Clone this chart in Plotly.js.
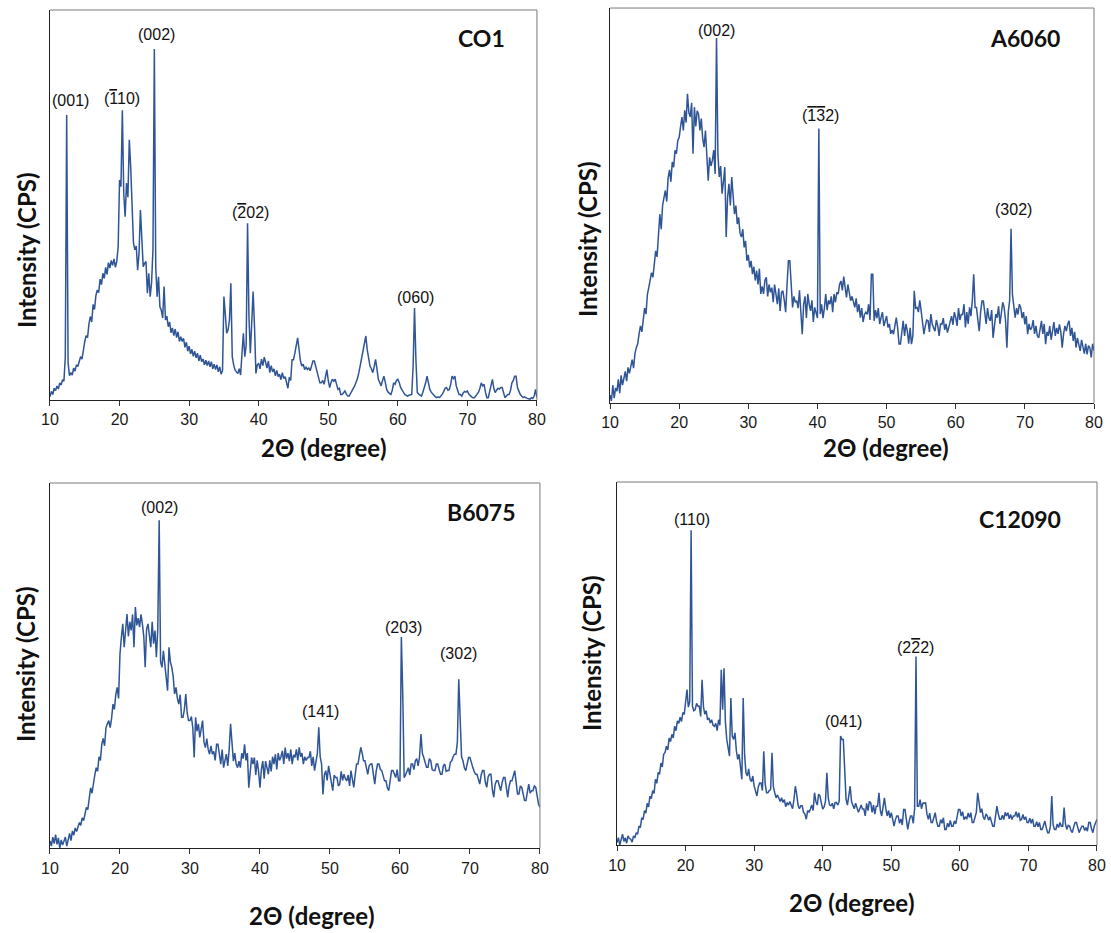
<!DOCTYPE html>
<html><head><meta charset="utf-8">
<script src="https://cdn.plot.ly/plotly-3.0.1.min.js"></script>
<style>html,body{margin:0;padding:0;background:#fff}#chart{width:1111px;height:933px}</style>
</head><body><div id="chart"></div>
<script>
// Scan grid: 2theta from 10 to 80 degrees, step 0.2
const angleStart = 10, angleStep = 0.2;
const tickDegrees = [10, 20, 30, 40, 50, 60, 70, 80];
const sampleNames = ["CO1", "A6060", "B6075", "C12090"];

// Intensities (relative, 0-1000 of panel height), 5 values per degree
const co1 = [
 8,22,14,30,24, 36,28,44,38,52, 48,110,731,95,62, 70,64,82,74,90, 86,98,111,105,130,
 150,165,160,195,214, 200,245,232,268,282, 275,310,296,325,312, 340,322,352,338,358, 345,362,340,355,393,
 564,547,743,530,470, 556,520,667,598,487, 402,385,395,333,376, 487,410,342,350,355, 274,325,265,300,385,
 900,342,265,316,239, 230,210,291,205,215, 188,200,172,185,165, 182,160,175,150,162, 150,158,135,148,125,
 138,118,130,112,125, 108,120,100,115,98, 105,90,102,88,100, 85,98,80,92,78, 90,72,85,66,75,
 265,220,171,180,205, 299,111,90,77,72, 68,80,64,120,171, 111,140,453,214,120, 222,278,188,68,90,
 94,80,105,88,110, 96,82,100,70,88, 72,80,62,76,60, 66,52,70,55,60, 45,30,58,50,103,
 103,120,140,159,130, 100,87,92,78,84, 78,82,75,88,100, 100,85,70,60,44, 44,50,40,55,78,
 50,32,45,53,48, 53,40,27,30,14, 14,20,23,15,10, 10,18,23,30,36, 44,55,70,90,105,
 121,150,164,129,110, 87,80,70,85,104, 80,53,45,36,50, 61,45,27,20,16, 14,25,44,40,50,
 53,45,32,25,18, 14,12,10,12,14, 14,87,236,104,19, 15,12,10,20,30, 44,61,40,27,20,
 15,10,8,6,8, 6,10,15,22,30, 32,25,27,40,61, 55,61,36,25,14, 14,10,18,22,20,
 23,15,10,8,6, 6,10,14,20,30, 44,36,40,20,6, 6,20,35,53,30, 19,25,30,28,32,
 32,15,6,10,14, 14,25,44,50,61, 61,32,20,14,10, 6,8,5,4,3, 2,6,4,10,27,
 6];

const a6060 = [
 20,5,45,12,38, 30,60,25,70,45, 62,80,55,90,75, 95,110,88,125,140, 150,175,195,180,220,
 240,225,275,292,310, 330,318,360,385,370, 420,478,440,500,520, 538,510,570,590,560, 610,597,640,631,665,
 673,700,724,690,741, 710,783,735,724,760, 631,749,700,740,732, 690,720,670,648,690, 640,563,622,600,614,
 640,580,924,630,572, 600,530,560,597,420, 520,555,500,572,510, 478,500,453,470,430, 420,440,394,410,360,
 375,343,360,326,345, 310,335,300,340,276, 295,276,310,318,270, 300,280,292,255,300, 276,250,290,233,280,
 284,260,230,300,360, 360,290,242,270,255, 259,240,285,230,174, 250,270,215,276,250, 233,260,205,242,230,
 215,695,225,250,215, 240,276,235,260,250, 270,230,276,255,280, 276,300,309,285,320, 290,267,300,275,259,
 270,259,242,265,230, 250,216,240,205,224, 230,224,250,210,326, 326,208,235,215,240, 200,216,230,195,210,
 220,191,200,175,185, 174,200,216,190,149, 149,180,208,170,200, 182,150,190,149,170, 284,240,242,230,260,
 233,200,174,195,210, 208,180,225,200,190, 182,210,195,170,200, 199,215,185,200,178, 191,205,220,198,230,
 216,195,240,210,224, 224,250,191,230,200, 242,220,260,326,242, 242,210,182,230,258, 258,230,200,240,215,
 208,235,165,200,225, 216,245,200,230,255, 242,210,140,230,260, 441,275,250,216,240, 224,250,242,215,230,
 199,220,174,200,185, 191,210,175,195,170, 165,190,208,175,200, 149,180,170,195,160, 182,205,170,190,175,
 199,180,140,175,195, 182,200,208,170,190, 157,180,140,165,150, 132,160,145,125,150, 123,145,140,115,150,
 132];

const b6075 = [
 19,5,30,12,37, 10,28,0,22,8, 19,30,5,25,40, 20,47,35,55,45, 56,70,62,83,75,
 95,111,105,140,165, 150,180,200,220,210, 250,240,284,300,280, 330,340,349,330,355, 394,380,420,440,410,
 532,577,614,550,600, 641,580,620,596,640, 550,660,610,630,605, 640,614,580,495,600, 614,580,550,620,560,
 596,523,600,898,510, 495,540,504,470,431, 550,510,495,470,422, 440,410,394,420,358, 358,380,422,370,349,
 349,360,330,248,358, 320,340,303,330,349, 290,275,300,270,257, 280,257,265,240,284, 284,250,230,270,220,
 240,257,225,270,340, 280,238,260,230,220, 238,220,260,245,284, 240,260,165,220,248, 230,248,200,240,210,
 165,215,238,190,238, 220,202,240,210,250, 230,257,215,260,240, 250,266,230,275,245, 260,238,270,230,255,
 248,270,240,276,250, 260,230,250,240,248, 248,265,225,250,212, 240,260,331,250,230, 147,200,212,185,225,
 202,175,157,200,193, 193,170,175,210,185, 202,190,184,200,170, 212,190,166,200,230, 230,250,276,260,239,
 239,215,202,225,230, 230,200,175,210,230, 230,215,212,195,184, 184,165,157,190,212, 212,200,193,215,184,
 184,578,422,193,200, 212,220,200,230,230, 215,239,245,225,250, 312,260,248,230,221, 221,245,239,215,212,
 212,230,230,215,202, 202,225,230,210,212, 212,235,239,250,257, 257,290,462,321,250, 239,220,212,235,248,
 248,230,221,210,202, 202,185,175,200,212, 212,180,166,195,202, 202,160,139,175,184, 184,170,157,180,193,
 193,160,139,170,184, 184,200,212,180,148, 148,170,166,150,130, 130,160,175,150,157, 157,170,166,140,120,
 112];

const c12090 = [
 7,20,0,15,30, 10,20,5,25,18, 16,8,25,20,34, 30,52,48,75,70, 95,88,115,105,135,
 128,150,142,181,170, 200,195,226,215,250, 255,272,262,295,285, 305,295,327,315,342, 335,352,340,365,360,
 400,428,380,395,867, 382,370,373,390,382, 382,354,455,382,360, 370,345,350,336,345, 330,327,335,315,345,
 330,483,373,487,340, 291,270,245,405,300, 291,309,260,236,250, 217,181,405,250,199, 190,210,181,175,190,
 162,150,135,160,171, 171,150,258,170,144, 144,150,153,254,160, 144,130,138,126,120, 130,117,125,105,117,
 110,120,108,100,125, 162,140,110,100,108, 108,90,85,71,95, 90,99,110,95,144, 120,110,140,135,115,
 99,105,120,199,130, 110,108,115,100,117, 117,110,120,300,291, 291,220,126,110,140, 162,120,108,100,115,
 105,90,100,110,99, 99,80,115,95,120, 116,90,110,85,107, 107,144,95,80,110, 130,100,80,95,75,
 89,65,52,70,80, 80,60,72,55,98, 98,70,43,65,80, 80,60,100,519,107, 107,125,100,115,116,
 116,85,71,88,62, 62,80,89,65,52, 52,70,60,75,43, 43,60,50,68,52, 52,66,58,85,98,
 98,80,92,70,78, 71,88,76,89,62, 62,75,90,144,120, 89,100,78,70,86, 80,68,78,60,52,
 52,80,107,86,71, 71,82,70,90,80, 89,72,84,70,80, 80,92,76,89,68, 71,84,70,78,62,
 62,74,60,72,52, 52,64,50,62,43, 43,58,66,48,34, 34,52,135,56,43, 43,58,48,62,52,
 52,103,58,43,54, 52,40,34,50,62, 62,46,34,44,52, 52,40,48,38,62, 62,45,34,52,60,
 71];

// Miller-index peak labels: [label, 2theta, intensity position of label centre]
const OB = "<span style='text-decoration:overline'>", CB = "</span>";
const co1Peaks = [["(001)", 13.0, 769], ["(" + OB + "1" + CB + "10)", 20.4, 772], ["(002)", 25.3, 936], ["(" + OB + "2" + CB + "02)", 38.8, 482], ["(060)", 62.5, 264]];
const a6060Peaks = [["(002)", 25.4, 942], ["(" + OB + "1" + CB + OB + "3" + CB + "2)", 40.4, 727], ["(302)", 68.4, 489]];
const b6075Peaks = [["(002)", 25.6, 934], ["(141)", 48.6, 375], ["(203)", 60.5, 605], ["(302)", 68.4, 532]];
const c12090Peaks = [["(110)", 21.0, 898], ["(041)", 43.0, 339], ["(2" + OB + "2" + CB + "2)", 53.6, 545]];

const allSeries = [co1, a6060, b6075, c12090];
const allPeaks = [co1Peaks, a6060Peaks, b6075Peaks, c12090Peaks];

// panel frames in paper fractions
const domX = [[0.0450, 0.4833], [0.5491, 0.9847], [0.0450, 0.4860], [0.5554, 0.9874]];
const domY = [[0.5713, 0.9893], [0.5681, 0.9914], [0.0911, 0.4823], [0.0943, 0.4834]];
const namePos = [[0.887, 0.928], [0.857, 0.924], [0.880, 0.921], [0.840, 0.898]];

const lineColor = "#2F5597";
const traces = [];
const layout = {
  width: 1111, height: 933,
  margin: {l: 0, r: 0, t: 0, b: 0},
  paper_bgcolor: "#ffffff", plot_bgcolor: "#ffffff",
  showlegend: false,
  annotations: [], shapes: []
};

allSeries.forEach((vals, i) => {
  const n = i + 1, sfx = (n === 1 ? "" : String(n));
  const xs = vals.map((_, k) => +(angleStart + angleStep * k).toFixed(2));
  traces.push({
    type: "scatter", mode: "lines", x: xs, y: vals,
    xaxis: "x" + sfx, yaxis: "y" + sfx,
    line: {color: lineColor, width: 1.5}, hoverinfo: "skip"
  });
  layout["xaxis" + sfx] = {
    domain: domX[i], anchor: "y" + sfx, range: [10, 80],
    tickmode: "array", tickvals: tickDegrees, ticktext: tickDegrees.map(String),
    ticks: "outside", ticklen: 5, tickwidth: 1, tickcolor: "#333",
    showline: true, linecolor: "#222", linewidth: 1.3, mirror: false,
    showgrid: false, zeroline: false,
    tickfont: {family: "Liberation Sans, Arial, sans-serif", size: 16, color: "#1a1a1a"}
  };
  layout["yaxis" + sfx] = {
    domain: domY[i], anchor: "x" + sfx, range: [0, 1000],
    showticklabels: false, ticks: "", showline: true, linecolor: "#222", linewidth: 1.3,
    showgrid: false, zeroline: false
  };
  const xr = "x" + sfx + " domain", yr = "y" + sfx + " domain";
  layout.shapes.push({type: "line", xref: xr, yref: yr, x0: 0, x1: 1, y0: 1, y1: 1, line: {color: "#7a7a7a", width: 1}});
  layout.shapes.push({type: "line", xref: xr, yref: yr, x0: 1, x1: 1, y0: 0, y1: 1, line: {color: "#7a7a7a", width: 1}});

  layout.annotations.push({
    xref: xr, yref: yr, x: namePos[i][0], y: namePos[i][1], xanchor: "center", yanchor: "middle",
    text: "<b>" + sampleNames[i] + "</b>",
    showarrow: false, font: {family: "Lato, Open Sans, sans-serif", size: 23, color: "#111"}
  });
  allPeaks[i].forEach(p => {
    layout.annotations.push({
      xref: "x" + sfx, yref: "y" + sfx, x: p[1], y: p[2], text: p[0], showarrow: false,
      xanchor: "center", yanchor: "middle",
      font: {family: "Liberation Sans, Arial, sans-serif", size: 16, color: "#111"}
    });
  });
});

// axis titles (placed as annotations in page pixel coords)
const xTitlePos = [[324, 447], [886, 447], [312, 915], [852, 902]];
const yTitlePos = [[26, 250], [587, 239], [25, 664], [591, 653]];
xTitlePos.forEach(p => layout.annotations.push({
  xref: "paper", yref: "paper", x: p[0] / 1111, y: 1 - p[1] / 933, xanchor: "center", yanchor: "middle",
  text: "<b>2\u0398 (degree)</b>",
  showarrow: false, font: {family: "Lato, Open Sans, sans-serif", size: 24, color: "#111"}
}));
yTitlePos.forEach(p => layout.annotations.push({
  xref: "paper", yref: "paper", x: p[0] / 1111, y: 1 - p[1] / 933, xanchor: "center", yanchor: "middle",
  text: "<b>Intensity (CPS)</b>",
  textangle: -90, showarrow: false, font: {family: "Lato, Open Sans, sans-serif", size: 24, color: "#111"}
}));

Plotly.newPlot("chart", traces, layout, {displayModeBar: false, staticPlot: true});
</script></body></html>
